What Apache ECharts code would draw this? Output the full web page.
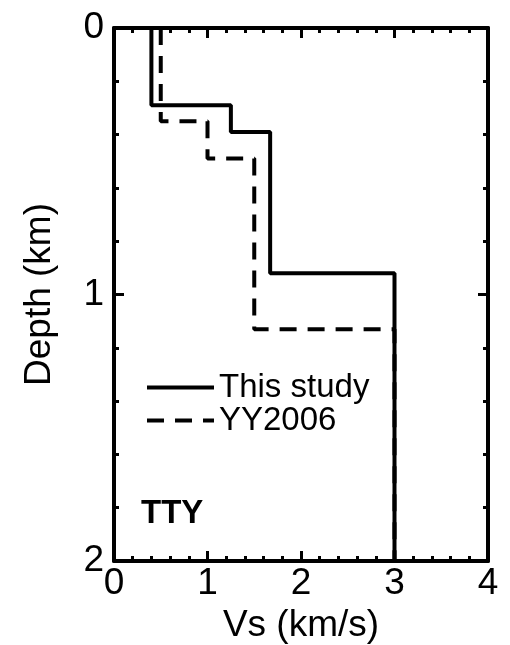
<!DOCTYPE html>
<html>
<head>
<meta charset="utf-8">
<script src="https://cdn.jsdelivr.net/npm/echarts@6/dist/echarts.min.js"></script>
<style>
  html, body { margin: 0; padding: 0; background: #fff; }
  #chart { width: 510px; height: 645px; }
</style>
</head>
<body>
<div id="chart"></div>
<script>
// layer boundaries (km) and velocities (km/s)
const studyDepth = [0, 0.29, 0.39, 0.92, 2.0]
const studyVs = [0.4, 1.25, 1.67, 3.0]
const yyDepth = [0, 0.35, 0.49, 1.13, 2.0]
const yyVs = [0.5, 1.0, 1.5, 3.0]
const xTicks = ['0', '1', '2', '3', '4']
const yTicks = ['0', '1', '2']

const FONT = 'Liberation Sans, Arial, sans-serif'

// turn layers into a step profile
function profile(depth, vs) {
  const pts = []
  for (let i = 0; i < vs.length; i++) {
    pts.push([vs[i], depth[i]])
    pts.push([vs[i], depth[i + 1]])
  }
  return pts
}

const chart = echarts.init(document.getElementById('chart'))

const tickBase = {
  axisLine: { show: true, onZero: false, lineStyle: { color: '#000', width: 4 } },
  axisTick: { show: true, inside: true, length: 10, lineStyle: { color: '#000', width: 3 } },
  minorTick: { show: true, splitNumber: 5, length: 5, lineStyle: { color: '#000', width: 3 } },
  splitLine: { show: false },
  minorSplitLine: { show: false }
}

chart.setOption({
  animation: false,
  backgroundColor: '#fff',
  textStyle: { fontFamily: FONT },
  title: {
    text: 'TTY',
    left: 136,
    top: 492,
    textStyle: { fontFamily: FONT, fontSize: 33, fontWeight: 'bold', color: '#000' }
  },
  legend: {
    orient: 'vertical',
    left: 140,
    top: 366,
    itemWidth: 67,
    itemHeight: 14,
    itemGap: 0,
    itemStyle: { opacity: 0 },
    lineStyle: { width: 4 },
    textStyle: { fontFamily: FONT, fontSize: 33, color: '#000', lineHeight: 31 },
    data: ['This study', 'YY2006']
  },
  grid: { left: 114, right: 22, top: 28, bottom: 84, outerBoundsMode: 'none', containLabel: false },
  xAxis: [{
    type: 'value',
    position: 'bottom',
    min: 0,
    max: 4,
    interval: 1,
    name: 'Vs (km/s)',
    nameLocation: 'middle',
    nameGap: 42,
    nameTextStyle: { fontFamily: FONT, fontSize: 37, color: '#000' },
    axisLabel: {
      margin: 4,
      fontFamily: FONT,
      fontSize: 37,
      color: '#000',
      formatter: v => xTicks[v]
    },
    ...tickBase
  }, {
    type: 'value',
    position: 'top',
    min: 0,
    max: 4,
    interval: 1,
    axisLabel: { show: false },
    ...tickBase
  }],
  yAxis: [{
    type: 'value',
    position: 'left',
    inverse: true,
    min: 0,
    max: 2,
    interval: 1,
    name: 'Depth (km)',
    nameLocation: 'middle',
    nameRotate: 90,
    nameGap: 56,
    nameTextStyle: { fontFamily: FONT, fontSize: 37, color: '#000' },
    axisLabel: {
      margin: 10,
      fontFamily: FONT,
      fontSize: 37,
      color: '#000',
      padding: [0, 0, 8, 0],
      formatter: v => yTicks[v]
    },
    ...tickBase
  }, {
    type: 'value',
    position: 'right',
    inverse: true,
    min: 0,
    max: 2,
    interval: 1,
    axisLabel: { show: false },
    ...tickBase
  }],
  series: [{
    name: 'This study',
    type: 'line',
    symbol: 'none',
    color: '#000',
    lineStyle: { color: '#000', width: 4 },
    data: profile(studyDepth, studyVs)
  }, {
    name: 'YY2006',
    type: 'line',
    symbol: 'none',
    color: '#000',
    lineStyle: { color: '#000', width: 4, type: [17, 11] },
    data: profile(yyDepth, yyVs)
  }]
})
</script>
</body>
</html>
